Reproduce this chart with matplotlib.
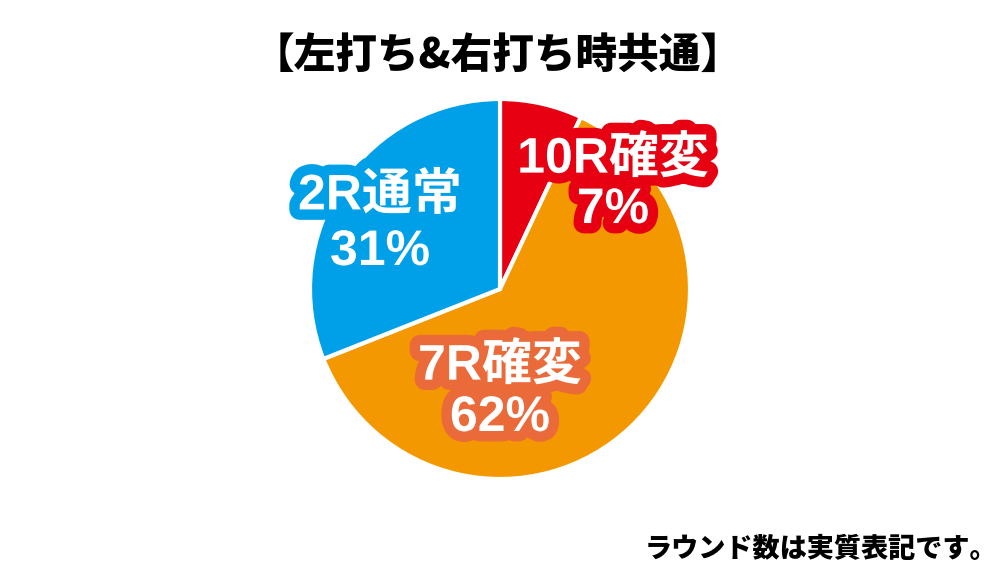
import matplotlib
matplotlib.use("Agg")
import matplotlib.pyplot as plt
import matplotlib.patheffects as pe

plt.rcParams['font.family'] = ['Noto Sans CJK JP', 'DejaVu Sans']

categories = ["10R確変", "7R確変", "2R通常"]
values = [7, 62, 31]
colors = ["#E60012", "#F39800", "#00A0E9"]
stroke_colors = ["#E60012", "#EA6A3A", "#00A0E9"]
title = "【左打ち&右打ち時共通】"
note = "ラウンド数は実質表記です。"

fig = plt.figure(figsize=(10, 5.77), dpi=100)
ax = fig.add_axes([0.31, 98/577, 0.38, 380/577])
ax.pie(values, colors=colors, startangle=90, counterclock=False,
       wedgeprops=dict(edgecolor="white", linewidth=3), radius=1)
ax.set_xlim(-1, 1)
ax.set_ylim(-1, 1)
ax.set_aspect('equal')
ax.axis('off')

# label positions in pixel coordinates (from top-left)
label_pos = [(613, 159, 210), (500, 366, 418), (380, 196, 252)]

def px(x, y):
    return x / 1000, 1 - y / 577

for cat, val, sc, (x, y1, y2) in zip(categories, values, stroke_colors, label_pos):
    for txt, yy in ((cat, y1), (f"{val}%", y2)):
        fig.text(*px(x, yy), txt, ha='center', va='center', fontsize=36,
                 fontweight='bold', color='white',
                 family=['Liberation Sans', 'Noto Sans CJK JP'],
                 path_effects=[pe.withStroke(linewidth=15, foreground=sc)])

fig.text(*px(498, 56), title, ha='center', va='center', fontsize=30,
         fontweight='black', color='black')
fig.text(*px(997, 549), note, ha='right', va='center', fontsize=19.5,
         fontweight='black', color='black')

fig.savefig("out.png", dpi=100)
